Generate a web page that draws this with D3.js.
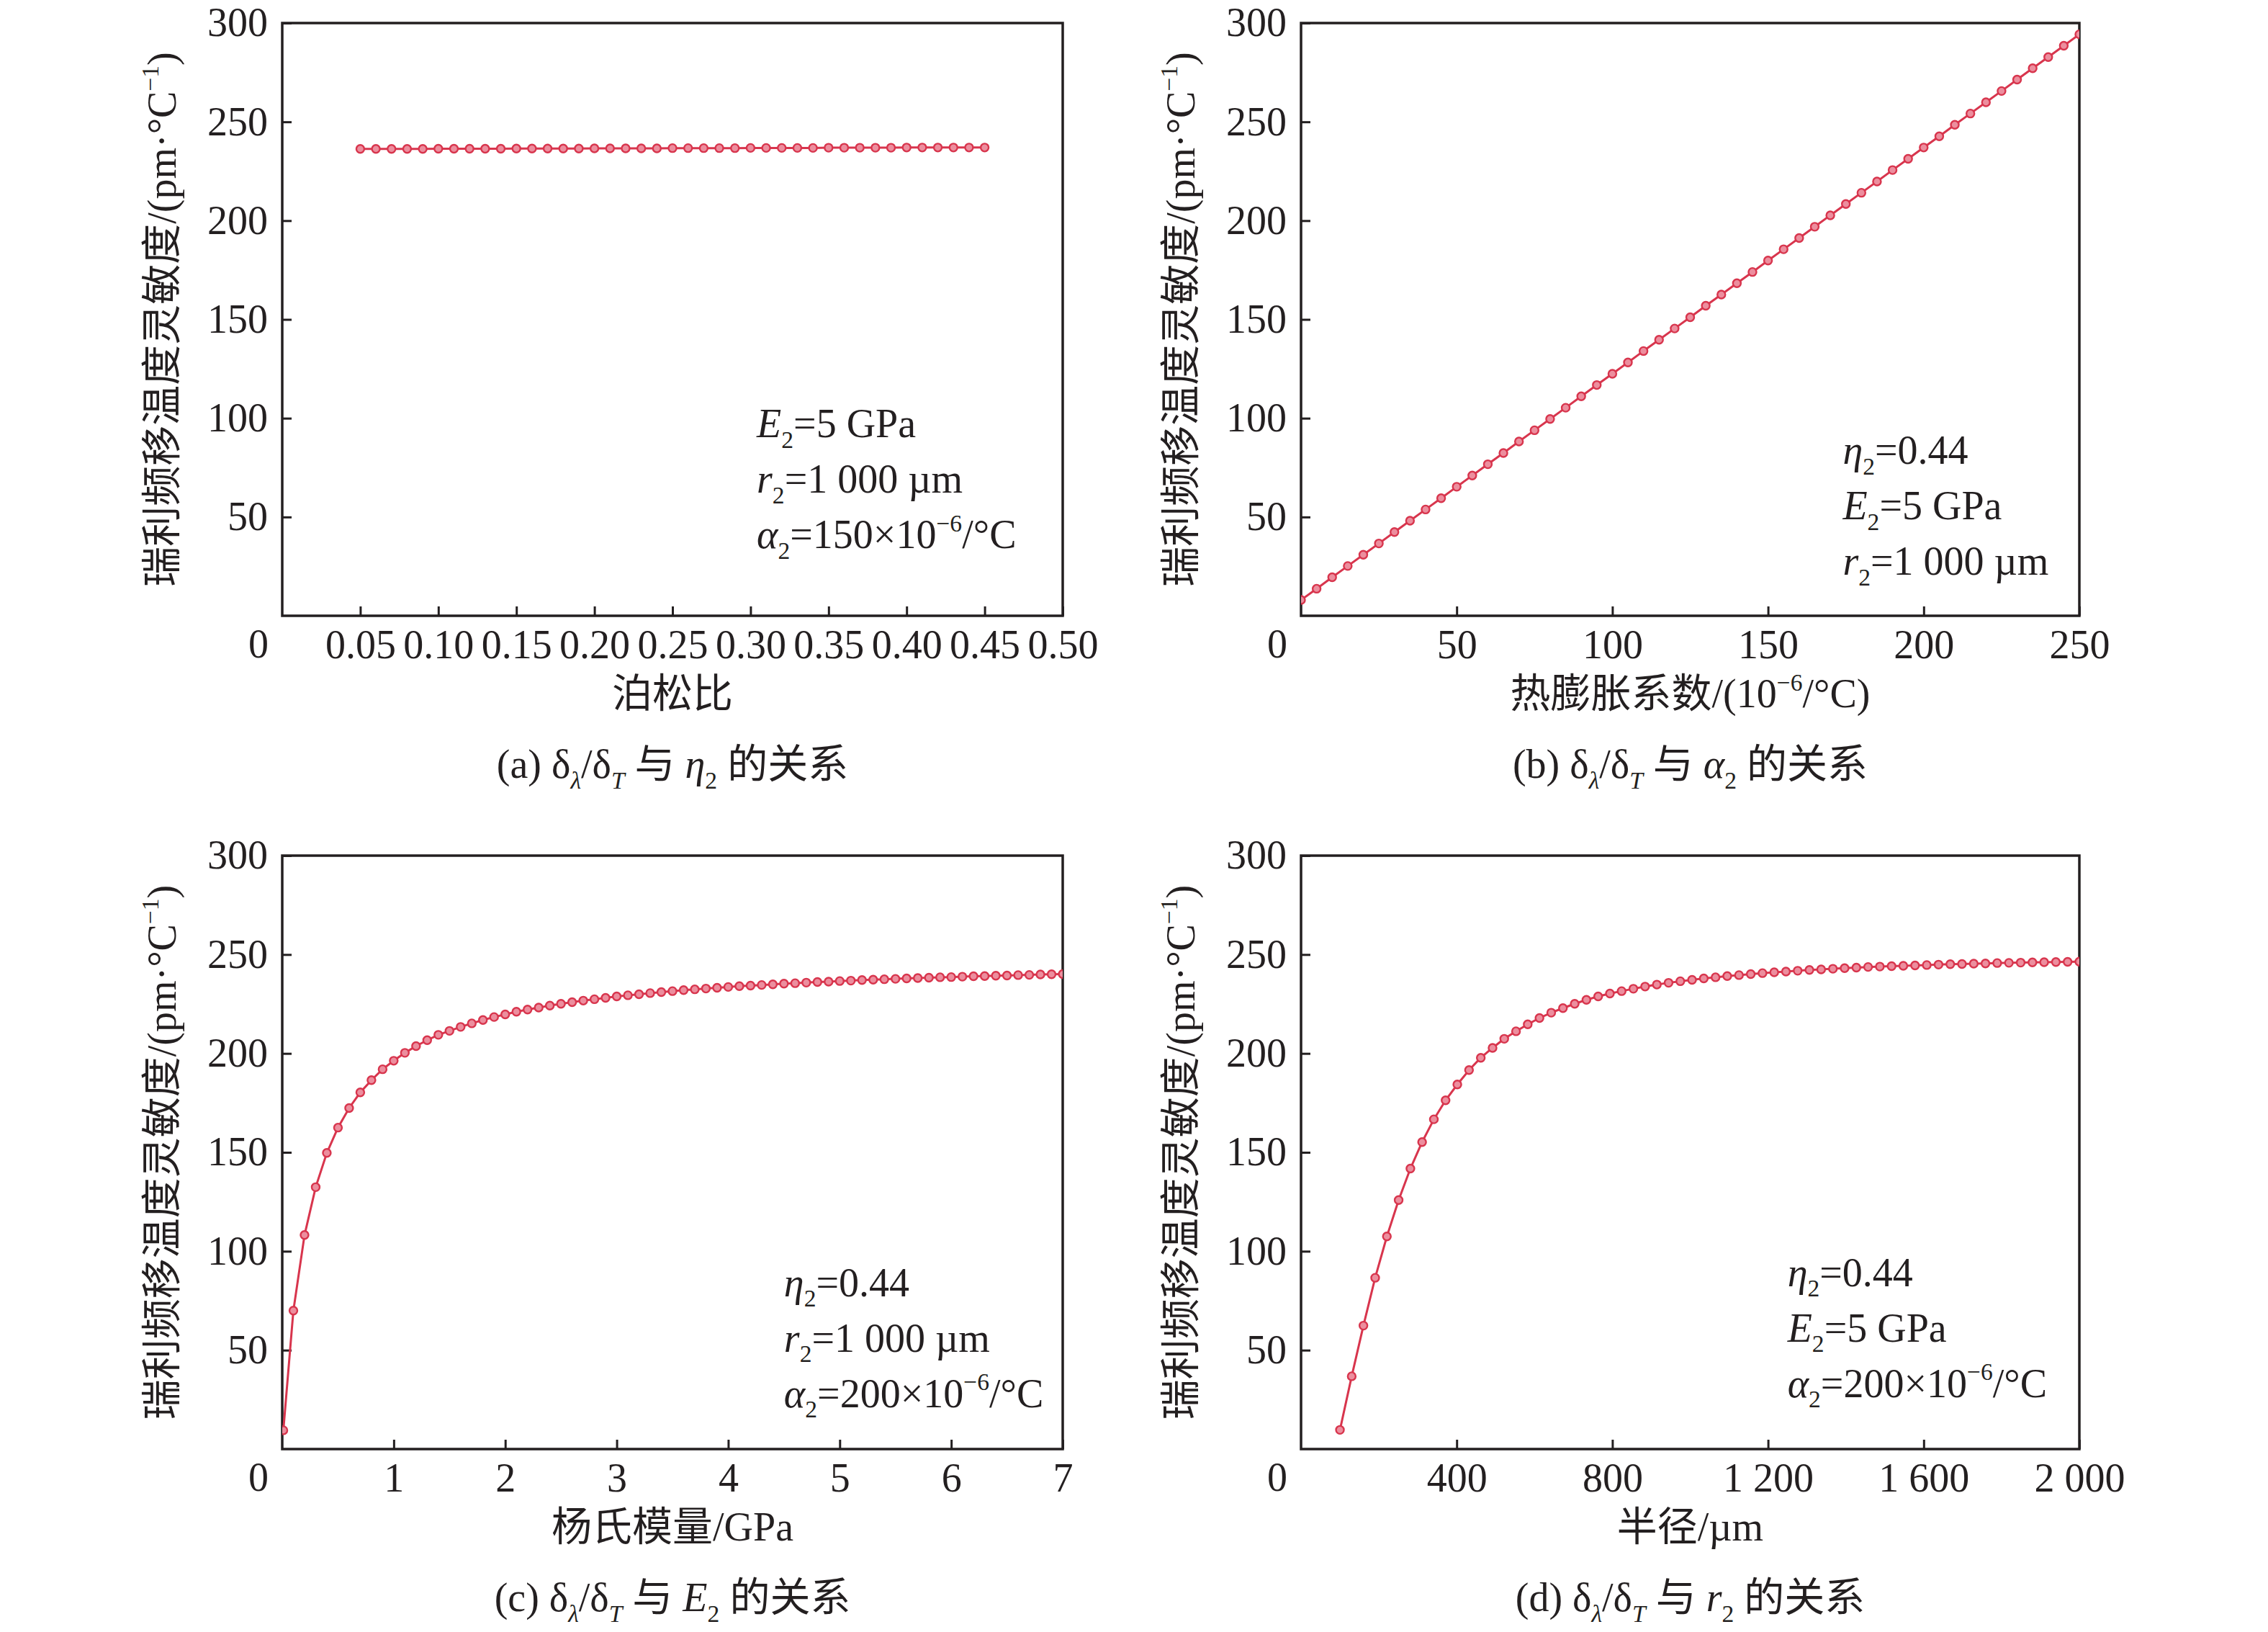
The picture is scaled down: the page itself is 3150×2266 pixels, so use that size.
<!DOCTYPE html>
<html>
<head>
<meta charset="utf-8">
<script src="https://cdn.jsdelivr.net/npm/d3@7"></script>
<style>
    body { margin: 0; background: #fff; }
    svg { display: block; }
</style>
</head>
<body>
<div id="figure"></div>
<script>

// ---- data ----
const yTicks = [50, 100, 150, 200, 250, 300];

const poissonX = [0.05, 0.06, 0.07, 0.08, 0.09, 0.10, 0.11, 0.12, 0.13, 0.14, 0.15, 0.16, 0.17, 0.18, 0.19, 0.20,
    0.21, 0.22, 0.23, 0.24, 0.25, 0.26, 0.27, 0.28, 0.29, 0.30, 0.31, 0.32, 0.33, 0.34, 0.35, 0.36, 0.37, 0.38,
    0.39, 0.40, 0.41, 0.42, 0.43, 0.44, 0.45];
const poissonY = [236.3, 236.3, 236.3, 236.3, 236.3, 236.4, 236.4, 236.4, 236.4, 236.4, 236.5, 236.5, 236.5, 236.5,
    236.5, 236.6, 236.6, 236.6, 236.6, 236.6, 236.7, 236.7, 236.7, 236.7, 236.7, 236.8, 236.8, 236.8, 236.8, 236.8,
    236.9, 236.9, 236.9, 236.9, 236.9, 237.0, 237.0, 237.0, 237.0, 237.0, 237.0];
const poissonTicks = [0.05, 0.10, 0.15, 0.20, 0.25, 0.30, 0.35, 0.40, 0.45, 0.50];
const poissonTickLabels = ["0.05", "0.10", "0.15", "0.20", "0.25", "0.30", "0.35", "0.40", "0.45", "0.50"];

const alphaX = [0, 5, 10, 15, 20, 25, 30, 35, 40, 45, 50, 55, 60, 65, 70, 75, 80, 85, 90, 95, 100, 105, 110, 115,
    120, 125, 130, 135, 140, 145, 150, 155, 160, 165, 170, 175, 180, 185, 190, 195, 200, 205, 210, 215, 220, 225,
    230, 235, 240, 245, 250];
const alphaY = [8.0, 13.7, 19.5, 25.2, 30.9, 36.6, 42.4, 48.1, 53.8, 59.5, 65.3, 71.0, 76.7, 82.4, 88.2, 93.9, 99.6,
    105.3, 111.1, 116.8, 122.5, 128.2, 134.0, 139.7, 145.4, 151.1, 156.9, 162.6, 168.3, 174.0, 179.8, 185.5, 191.2,
    196.9, 202.7, 208.4, 214.1, 219.8, 225.6, 231.3, 237.0, 242.7, 248.5, 254.2, 259.9, 265.6, 271.4, 277.1, 282.8,
    288.5, 294.3];
const alphaTicks = [50, 100, 150, 200, 250];
const alphaTickLabels = ["50", "100", "150", "200", "250"];

const modulusX = [0.01, 0.1, 0.2, 0.3, 0.4, 0.5, 0.6, 0.7, 0.8, 0.9, 1.0, 1.1, 1.2, 1.3, 1.4, 1.5, 1.6, 1.7, 1.8, 1.9,
    2.0, 2.1, 2.2, 2.3, 2.4, 2.5, 2.6, 2.7, 2.8, 2.9, 3.0, 3.1, 3.2, 3.3, 3.4, 3.5, 3.6, 3.7, 3.8, 3.9, 4.0, 4.1, 4.2,
    4.3, 4.4, 4.5, 4.6, 4.7, 4.8, 4.9, 5.0, 5.1, 5.2, 5.3, 5.4, 5.5, 5.6, 5.7, 5.8, 5.9, 6.0, 6.1, 6.2, 6.3, 6.4, 6.5,
    6.6, 6.7, 6.8, 6.9, 7.0];
const modulusY = [9.5, 70.0, 108.2, 132.4, 149.7, 162.5, 172.4, 180.3, 186.5, 192.0,
    196.3, 200.3, 203.7, 206.7, 209.4, 211.4, 213.4, 215.2, 216.9, 218.4,
    219.7, 221.1, 222.2, 223.2, 224.2, 225.1, 225.9, 226.7, 227.4, 228.1,
    228.8, 229.4, 229.9, 230.5, 231.0, 231.5, 232.0, 232.4, 232.8, 233.2,
    233.6, 234.0, 234.3, 234.6, 234.9, 235.3, 235.5, 235.8, 236.1, 236.3,
    236.6, 236.8, 237.1, 237.3, 237.5, 237.7, 237.9, 238.1, 238.3, 238.5,
    238.6, 238.8, 239.0, 239.1, 239.3, 239.4, 239.6, 239.7, 239.9, 240.0,
    240.1];
const modulusTicks = [1, 2, 3, 4, 5, 6, 7];
const modulusTickLabels = ["1", "2", "3", "4", "5", "6", "7"];

const radiusX = [100, 130.2, 160.3, 190.5, 220.6, 250.8, 281.0, 311.1, 341.3, 371.4, 401.6, 431.7, 461.9, 492.1,
    522.2, 552.4, 582.5, 612.7, 642.9, 673.0, 703.2, 733.3, 763.5, 793.7, 823.8, 854.0, 884.1, 914.3, 944.4, 974.6,
    1004.8, 1034.9, 1065.1, 1095.2, 1125.4, 1155.6, 1185.7, 1215.9, 1246.0, 1276.2, 1306.3, 1336.5, 1366.7, 1396.8,
    1427.0, 1457.1, 1487.3, 1517.5, 1547.6, 1577.8, 1607.9, 1638.1, 1668.3, 1698.4, 1728.6, 1758.7, 1788.9, 1819.0,
    1849.2, 1879.4, 1909.5, 1939.7, 1969.8, 2000];
const radiusY = [9.7, 36.8, 62.4, 86.6, 107.5, 125.9, 141.8, 155.2, 166.7, 176.3,
    184.3, 191.6, 197.8, 202.8, 207.4, 211.2, 214.7, 217.9, 220.6, 222.9,
    225.1, 227.1, 228.8, 230.3, 231.5, 232.7, 233.8, 234.8, 235.7, 236.5,
    237.2, 237.9, 238.5, 239.1, 239.6, 240.1, 240.6, 241.0, 241.4, 241.8,
    242.2, 242.5, 242.8, 243.1, 243.4, 243.7, 243.9, 244.1, 244.3, 244.5,
    244.7, 244.9, 245.1, 245.2, 245.4, 245.5, 245.7, 245.8, 245.9, 246.0,
    246.1, 246.2, 246.3, 246.4];
const radiusTicks = [400, 800, 1200, 1600, 2000];
const radiusTickLabels = ["400", "800", "1 200", "1 600", "2 000"];

// text pieces: plain string, or [text, kind] with kind i / sub / isub / sup
const yTitle = ["瑞利频移温度灵敏度/(pm·°C", ["−1", "sup"], ")"];
const eta2 = [["η", "i"], ["2", "sub"], "=0.44"];
const e2 = [["E", "i"], ["2", "sub"], "=5 GPa"];
const r2 = [["r", "i"], ["2", "sub"], "=1 000 µm"];
const alpha150 = [["α", "i"], ["2", "sub"], "=150×10", ["−6", "sup"], "/°C"];
const alpha200 = [["α", "i"], ["2", "sub"], "=200×10", ["−6", "sup"], "/°C"];
const ratio = ["δ", ["λ", "isub"], "/δ", ["T", "isub"], " 与 "];

// ---- drawing ----
const FONT = "'Liberation Serif', 'Times New Roman', 'Noto Sans CJK SC', serif";
const FS = 56;
const RED = "#d8354d";

function addRich(textSel, parts, fs) {
    let shift = 0;
    parts.forEach(function (p) {
        let str = Array.isArray(p) ? p[0] : p;
        let kind = Array.isArray(p) ? p[1] : "n";
        let small = (kind === "sub" || kind === "isub" || kind === "sup");
        let target = (kind === "sub" || kind === "isub") ? 0.26 * fs : (kind === "sup" ? -0.42 * fs : 0);
        let ts = textSel.append("tspan")
            .attr("dy", target - shift)
            .text(str);
        shift = target;
        if (small) ts.attr("font-size", fs * 0.6);
        if (kind === "i" || kind === "isub") ts.attr("font-style", "italic");
    });
}

class SensitivityPanel {

    constructor(svg, config) {
        this.svg = svg;
        this.config = config;
        this.initVis();
    }

    initVis() {
        let vis = this;
        let c = vis.config;

        vis.width = c.width;
        vis.height = c.height;

        vis.g = vis.svg.append("g")
            .attr("transform", `translate(${c.left}, ${c.top})`)
            .attr("font-family", FONT);

        vis.x = d3.scaleLinear().domain(c.xDomain).range([0, vis.width]);
        vis.y = d3.scaleLinear().domain([0, 300]).range([vis.height, 0]);

        vis.g.append("clipPath")
            .attr("id", "clip-" + c.id)
            .append("rect")
            .attr("width", vis.width)
            .attr("height", vis.height);

        // axes, ticks pointing inward
        let xAxis = d3.axisBottom(vis.x)
            .tickValues(c.xTicks)
            .tickFormat((d, i) => c.xTickLabels[i])
            .tickSizeInner(-13)
            .tickSizeOuter(0)
            .tickPadding(19);

        let yAxis = d3.axisLeft(vis.y)
            .tickValues(yTicks)
            .tickFormat(d3.format("d"))
            .tickSizeInner(-13)
            .tickSizeOuter(0)
            .tickPadding(20);

        vis.g.append("g")
            .attr("class", "x-axis")
            .attr("transform", `translate(0, ${vis.height})`)
            .call(xAxis);

        vis.g.append("g")
            .attr("class", "y-axis")
            .call(yAxis);

        vis.g.selectAll(".domain").remove();
        vis.g.selectAll(".tick line").attr("stroke", "#231f20").attr("stroke-width", 3);
        vis.g.selectAll(".tick text")
            .attr("font-size", FS)
            .attr("font-family", FONT)
            .attr("fill", "#231f20");

        vis.g.append("rect")
            .attr("width", vis.width)
            .attr("height", vis.height)
            .attr("fill", "none")
            .attr("stroke", "#231f20")
            .attr("stroke-width", 3.5);

        // shared origin label
        vis.g.append("text")
            .attr("x", -33)
            .attr("y", vis.height + 40 + 0.33 * FS)
            .attr("text-anchor", "middle")
            .attr("font-size", FS)
            .attr("fill", "#231f20")
            .text("0");

        // y title
        let yt = vis.g.append("text")
            .attr("transform", `translate(${-168 + 0.35 * FS}, ${vis.height / 2}) rotate(-90)`)
            .attr("text-anchor", "middle")
            .attr("font-size", FS)
            .attr("fill", "#231f20");
        addRich(yt, yTitle, FS);

        // x title
        let xt = vis.g.append("text")
            .attr("x", vis.width / 2)
            .attr("y", vis.height + 107 + 0.36 * FS)
            .attr("text-anchor", "middle")
            .attr("font-size", FS)
            .attr("fill", "#231f20");
        addRich(xt, c.xTitle, FS);

        // caption
        let cap = vis.g.append("text")
            .attr("x", vis.width / 2)
            .attr("y", vis.height + 205 + 0.36 * FS)
            .attr("text-anchor", "middle")
            .attr("font-size", FS)
            .attr("fill", "#231f20");
        addRich(cap, c.caption, FS);

        // parameter notes
        c.notes.forEach(function (parts, i) {
            let t = vis.g.append("text")
                .attr("x", vis.x(c.noteAt[0]))
                .attr("y", vis.y(c.noteAt[1]) + i * 77 + 0.35 * FS)
                .attr("font-size", FS)
                .attr("fill", "#231f20");
            addRich(t, parts, FS);
        });

        vis.wrangleData();
    }

    wrangleData() {
        let vis = this;
        vis.displayData = vis.config.xValues.map((d, i) => ({x: d, y: vis.config.yValues[i]}));
        vis.updateVis();
    }

    updateVis() {
        let vis = this;

        let plot = vis.g.append("g")
            .attr("clip-path", `url(#clip-${vis.config.id})`);

        vis.line = d3.line()
            .x(d => vis.x(d.x))
            .y(d => vis.y(d.y));

        plot.append("path")
            .datum(vis.displayData)
            .attr("d", vis.line)
            .attr("fill", "none")
            .attr("stroke", RED)
            .attr("stroke-width", 3);

        plot.selectAll("circle")
            .data(vis.displayData)
            .enter()
            .append("circle")
            .attr("cx", d => vis.x(d.x))
            .attr("cy", d => vis.y(d.y))
            .attr("r", 5.5)
            .attr("fill", "#ec8e9e")
            .attr("stroke", RED)
            .attr("stroke-width", 2.4);
    }
}

let svg = d3.select("#figure").append("svg")
    .attr("width", 3150)
    .attr("height", 2266)
    .style("background", "#fff");

let panels = [
    {
        id: "a", left: 392, top: 32, width: 1084, height: 823,
        xDomain: [0, 0.5], xTicks: poissonTicks, xTickLabels: poissonTickLabels,
        xValues: poissonX, yValues: poissonY,
        xTitle: ["泊松比"],
        caption: ["(a) "].concat(ratio, [["η", "i"], ["2", "sub"], " 的关系"]),
        notes: [e2, r2, alpha150], noteAt: [0.304, 97.5]
    },
    {
        id: "b", left: 1807, top: 32, width: 1081, height: 823,
        xDomain: [0, 250], xTicks: alphaTicks, xTickLabels: alphaTickLabels,
        xValues: alphaX, yValues: alphaY,
        xTitle: ["热膨胀系数/(10", ["−6", "sup"], "/°C)"],
        caption: ["(b) "].concat(ratio, [["α", "i"], ["2", "sub"], " 的关系"]),
        notes: [eta2, e2, r2], noteAt: [174, 84]
    },
    {
        id: "c", left: 392, top: 1188, width: 1084, height: 824,
        xDomain: [0, 7], xTicks: modulusTicks, xTickLabels: modulusTickLabels,
        xValues: modulusX, yValues: modulusY,
        xTitle: ["杨氏模量/GPa"],
        caption: ["(c) "].concat(ratio, [["E", "i"], ["2", "sub"], " 的关系"]),
        notes: [eta2, r2, alpha200], noteAt: [4.5, 84.5]
    },
    {
        id: "d", left: 1807, top: 1188, width: 1081, height: 824,
        xDomain: [0, 2000], xTicks: radiusTicks, xTickLabels: radiusTickLabels,
        xValues: radiusX, yValues: radiusY,
        xTitle: ["半径/µm"],
        caption: ["(d) "].concat(ratio, [["r", "i"], ["2", "sub"], " 的关系"]),
        notes: [eta2, e2, alpha200], noteAt: [1250, 89.5]
    }
];

panels.forEach(p => new SensitivityPanel(svg, p));

</script>
</body>
</html>
